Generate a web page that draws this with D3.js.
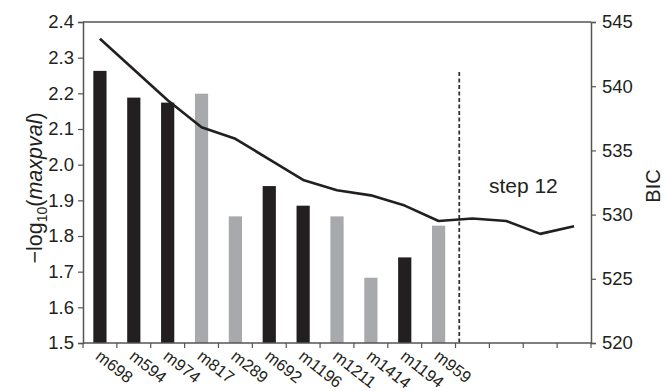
<!DOCTYPE html>
<html><head><meta charset="utf-8">
<script src="https://cdn.jsdelivr.net/npm/d3@7"></script>
<style>body{margin:0;background:#fff}svg{display:block;font-family:"Liberation Sans",Arial,sans-serif}</style>
</head><body><svg id="c" width="665" height="391"></svg>
<script>
const steps = ["s1","s2","s3","s4","s5","s6","s7","s8","s9","s10","s11","s12","s13","s14","s15"];
const markers = ["m698","m594","m974","m817","m289","m692","m1196","m1211","m1414","m1194","m959"];
const pvals = [2.263,2.188,2.174,2.199,1.855,1.940,1.885,1.855,1.683,1.740,1.829];
const barType = ["dark","dark","dark","light","light","dark","dark","light","light","dark","light"];
const bic = [543.7,541.3,538.9,536.8,535.9,534.3,532.7,531.9,531.5,530.7,529.5,529.7,529.5,528.5,529.1];
const leftTicks = [1.5,1.6,1.7,1.8,1.9,2.0,2.1,2.2,2.3,2.4];
const rightTicks = [520,525,530,535,540,545];
const stepLabel = "step 12";

const W=665,H=391,m={l:83,r:74,t:22,b:48};
const svg=d3.select("#c");
const x=d3.scaleBand().domain(steps).range([m.l,W-m.r]).paddingInner(0.61).paddingOuter(0.305);
const yL=d3.scaleLinear().domain([1.5,2.4]).range([H-m.b,m.t]);
const yR=d3.scaleLinear().domain([520,545]).range([H-m.b,m.t]);
const axisCol="#555";
const step=x.step();

// bars
svg.append("g").selectAll("rect").data(markers).join("rect")
  .attr("x",(d,i)=>x(steps[i])).attr("width",x.bandwidth())
  .attr("y",(d,i)=>yL(pvals[i])).attr("height",(d,i)=>yL(1.5)-yL(pvals[i]))
  .attr("fill",(d,i)=>barType[i]==="dark"?"#231f20":"#a7a9ac");

// top border
svg.append("line").attr("x1",m.l).attr("x2",W-m.r).attr("y1",m.t).attr("y2",m.t).attr("stroke",axisCol).attr("stroke-width",1.5);

// left axis
const gl=svg.append("g").attr("transform",`translate(${m.l},0)`)
  .call(d3.axisLeft(yL).tickValues(leftTicks).tickFormat(d3.format(".1f")).tickSizeOuter(0).tickSize(5).tickPadding(4));
// right axis
const gr=svg.append("g").attr("transform",`translate(${W-m.r},0)`)
  .call(d3.axisRight(yR).tickValues(rightTicks).tickSizeOuter(0).tickSize(5).tickPadding(6));
// bottom axis: ticks at band boundaries
const bounds=d3.range(steps.length+1).map(i=>m.l+i*step);
const gb=svg.append("g").attr("transform",`translate(0,${H-m.b})`);
gb.append("line").attr("x1",m.l).attr("x2",W-m.r).attr("stroke",axisCol).attr("stroke-width",1.5);
gb.selectAll("line.t").data(bounds).join("line").attr("class","t")
  .attr("x1",d=>d).attr("x2",d=>d).attr("y1",0).attr("y2",5).attr("stroke",axisCol).attr("stroke-width",1.2);
gb.selectAll("text").data(markers).join("text")
  .attr("transform",(d,i)=>`translate(${x(steps[i])+x.bandwidth()/2+2},6) rotate(38)`)
  .attr("dy","0.72em").attr("font-size",16.5).attr("fill","#231f20").text(d=>d);

[gl,gr].forEach(g=>{
  g.select(".domain").attr("stroke",axisCol).attr("stroke-width",1.5);
  g.selectAll(".tick line").attr("stroke",axisCol).attr("stroke-width",1.2);
  g.selectAll(".tick text").attr("font-size",18.5).attr("fill","#231f20").attr("font-family","Liberation Sans,Arial,sans-serif");
});

// dashed step line
const dx=x(steps[11])-x.paddingInner()*step/2+0.11*step;
svg.append("line").attr("x1",dx).attr("x2",dx).attr("y1",yR(541.1)).attr("y2",yL(1.5))
  .attr("stroke","#333").attr("stroke-width",1.8).attr("stroke-dasharray","4,2.5");
svg.append("text").attr("x",x(steps[12])+x.bandwidth()/2+17).attr("y",yR(531.7)).attr("text-anchor","middle")
  .attr("font-size",21).attr("fill","#231f20").text(stepLabel);

// BIC line
const line=d3.line().x((d,i)=>x(steps[i])+x.bandwidth()/2).y(d=>yR(d));
svg.append("path").datum(bic).attr("d",line).attr("fill","none").attr("stroke","#231f20").attr("stroke-width",2.6).attr("stroke-linejoin","round");

// axis titles
const tl=svg.append("text").attr("transform",`translate(42,188) rotate(-90)`)
  .attr("text-anchor","middle").attr("font-size",21.5).attr("fill","#231f20");
tl.append("tspan").text("\u2212log");
tl.append("tspan").attr("font-size",14).attr("dy",5).text("10");
tl.append("tspan").attr("dy",-5).text("(");
tl.append("tspan").attr("font-style","italic").text("maxpval");
tl.append("tspan").text(")");
svg.append("text").attr("transform",`translate(660,186) rotate(-90)`)
  .attr("text-anchor","middle").attr("font-size",20).attr("fill","#231f20").text("BIC");
</script></body></html>
